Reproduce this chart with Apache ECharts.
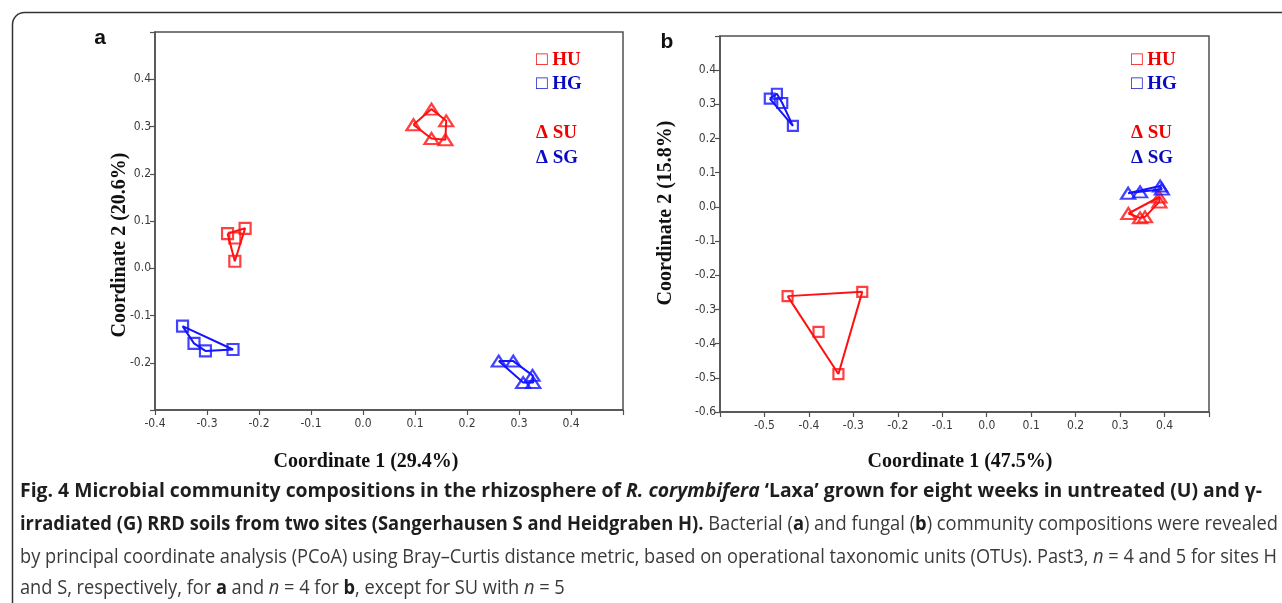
<!DOCTYPE html>
<html>
<head>
<meta charset="utf-8">
<script src="https://cdn.jsdelivr.net/npm/echarts@6/dist/echarts.min.js"></script>
<style>html,body{margin:0;padding:0;background:#fff}#c{width:1282px;height:603px}</style>
</head>
<body>
<div id="c"></div>
<script>
// ---- data ----
// Panel a: bacterial PCoA
const aHU = [[-0.2605,0.0733],[-0.2267,0.0845],[-0.2465,0.064],[-0.2465,0.0148]];
const aHG = [[-0.347,-0.1225],[-0.325,-0.159],[-0.303,-0.175],[-0.250,-0.172]];
const aSU = [[0.097,0.3036],[0.1317,0.3368],[0.160,0.312],[0.1585,0.272],[0.1317,0.2747]];
const aSG = [[0.261,-0.1965],[0.289,-0.1965],[0.326,-0.2267],[0.3275,-0.242],[0.308,-0.242]];
// Panel b: fungal PCoA
const bHU = [[-0.448,-0.261],[-0.28,-0.2485],[-0.3784,-0.3655],[-0.3336,-0.489]];
const bHG = [[-0.488,0.317],[-0.472,0.331],[-0.46,0.304],[-0.436,0.237]];
const bSU = [[0.3186,-0.0193],[0.3449,-0.032],[0.3561,-0.029],[0.3883,0.029],[0.3883,0.0146]];
const bSG = [[0.318,0.040],[0.345,0.044],[0.39,0.061],[0.394,0.052]];

const legendNames = ['HU','HG','SU','SG'];
const axisTitlesA = ['Coordinate 1 (29.4%)','Coordinate 2 (20.6%)'];
const axisTitlesB = ['Coordinate 1 (47.5%)','Coordinate 2 (15.8%)'];

// ---- styles ----
const RED = '#ff1010', BLUE = '#1414ff';
const RED_T = '#f20000', BLUE_T = '#0a0ac4';
const AX = '#505050';
const TICKFONT = '"Liberation Sans Narrow","DejaVu Sans Condensed",Roboto,sans-serif';
const SERIF = '"Liberation Serif","DejaVu Serif",serif';
const CAPFONT = '"Open Sans",Roboto,sans-serif';

function hull(pts){
  const p = pts.slice().sort((a,b)=>a[0]-b[0]||a[1]-b[1]);
  const cr=(o,a,b)=>(a[0]-o[0])*(b[1]-o[1])-(a[1]-o[1])*(b[0]-o[0]);
  const lo=[],up=[];
  for(const q of p){while(lo.length>=2&&cr(lo[lo.length-2],lo[lo.length-1],q)<=0)lo.pop();lo.push(q);}
  for(let i=p.length-1;i>=0;i--){const q=p[i];while(up.length>=2&&cr(up[up.length-2],up[up.length-1],q)<=0)up.pop();up.push(q);}
  up.pop();lo.pop();
  const h=lo.concat(up); h.push(h[0]); return h;
}
function fmt(hide){
  return v=>{const r=Math.round(v*10)/10; if(hide.some(h=>Math.abs(h-r)<1e-9))return ''; return (Math.abs(r)<1e-9?0:r).toFixed(1);};
}
function xAx(gi,min,max,hide){
  return {gridIndex:gi,type:'value',min,max,interval:0.1,
    axisLine:{onZero:false,lineStyle:{color:AX,width:1.5}},
    axisTick:{show:true,length:5,lineStyle:{color:AX,width:1.2}},
    splitLine:{show:false},
    axisLabel:{formatter:fmt(hide),color:'#3a3a3a',fontSize:12,fontFamily:TICKFONT,margin:8}};
}
function yAx(gi,min,max,hide){
  return {gridIndex:gi,type:'value',min,max,interval:0.1,
    axisLine:{onZero:false,lineStyle:{color:AX,width:1.5}},
    axisTick:{show:true,length:5,lineStyle:{color:AX,width:1.2}},
    splitLine:{show:false},
    axisLabel:{formatter:fmt(hide),color:'#3a3a3a',fontSize:12,fontFamily:TICKFONT,margin:4}};
}

const groups = [
  {d:aHU,g:0,c:RED,s:'rect'},{d:aHG,g:0,c:BLUE,s:'rect'},{d:aSU,g:0,c:RED,s:'triangle'},{d:aSG,g:0,c:BLUE,s:'triangle'},
  {d:bHU,g:1,c:RED,s:'rect'},{d:bHG,g:1,c:BLUE,s:'rect'},{d:bSU,g:1,c:RED,s:'triangle'},{d:bSG,g:1,c:BLUE,s:'triangle'}
];
const series=[];
groups.forEach((gr,i)=>{
  series.push({type:'line',xAxisIndex:gr.g,yAxisIndex:gr.g,data:hull(gr.d),showSymbol:false,symbol:'none',
    lineStyle:{color:gr.c,width:2},silent:true,z:2,animation:false});
  series.push({type:'scatter',name:legendNames[i%4],xAxisIndex:gr.g,yAxisIndex:gr.g,data:gr.d,symbol:gr.s,
    symbolSize: gr.s==='rect'?(gr.g===0?[11,11]:[10,10]):[14,11],
    itemStyle:{color:'rgba(0,0,0,0)',borderColor:gr.c,borderWidth:2.2},z:3,animation:false});
});

// ---- legends / titles as text ----
const graphic=[];
graphic.push({type:'rect',shape:{x:12.5,y:12.5,width:1300,height:620,r:12},style:{fill:'none',stroke:'#333',lineWidth:1.5},silent:true});
graphic.push({type:'text',x:100,y:38,style:{text:'a',font:'bold 21px "Liberation Sans",Arial,sans-serif',fill:'#111',align:'center',verticalAlign:'middle'}});
graphic.push({type:'text',x:667,y:42,style:{text:'b',font:'bold 21px "Liberation Sans",Arial,sans-serif',fill:'#111',align:'center',verticalAlign:'middle'}});
const legY=[60,84,133,158], legSym=['\u25A1','\u25A1','\u0394','\u0394'], legCol=[RED_T,BLUE_T,RED_T,BLUE_T];
[536,1131].forEach(lx=>{
  legendNames.forEach((n,i)=>{
    graphic.push({type:'text',x:lx,y:legY[i],style:{text:legSym[i]+' '+n,font:'bold 19px '+SERIF,fill:legCol[i],verticalAlign:'middle'}});
  });
});
function title(t,x,y,rot){
  return {type:'text',x,y,rotation:rot?Math.PI/2:0,style:{text:t,font:'bold 20px '+SERIF,fill:'#111',align:'center',verticalAlign:'middle'}};
}
graphic.push(title(axisTitlesA[0],366,462,false));
graphic.push(title(axisTitlesA[1],120,245,true));
graphic.push(title(axisTitlesB[0],960,462,false));
graphic.push(title(axisTitlesB[1],666,213,true));

// ---- caption ----
const cap1=[['b','Fig. 4 Microbial community compositions in the rhizosphere of '],['bi','R. corymbifera'],['b',' \u2018Laxa\u2019 grown for eight weeks in untreated (U) and \u03b3-']];
const cap2=[['b','irradiated (G) RRD soils from two sites (Sangerhausen S and Heidgraben H).'],['r',' Bacterial ('],['b','a'],['r',') and fungal ('],['b','b'],['r',') community compositions were revealed']];
const cap3=[['r','by principal coordinate analysis (PCoA) using Bray\u2013Curtis distance metric, based on operational taxonomic units (OTUs). Past3, '],['i','n'],['r',' = 4 and 5 for sites H']];
const cap4=[['r','and S, respectively, for '],['b','a'],['r',' and '],['i','n'],['r',' = 4 for '],['b','b'],['r',', except for SU with '],['i','n'],['r',' = 5']];
const CS=20;
const capStyles={b:{fontWeight:'bold',fontStyle:'normal',fill:'#1e1e1e'},bi:{fontWeight:'bold',fontStyle:'italic',fill:'#1e1e1e'},r:{fontWeight:'normal',fontStyle:'normal',fill:'#3a3a3a'},i:{fontWeight:'normal',fontStyle:'italic',fill:'#3a3a3a'}};
const mctx=document.createElement('canvas').getContext('2d');
function measure(segs){
  let w=0; segs.forEach(([k,t])=>{const s=capStyles[k]; mctx.font=`${s.fontStyle} ${s.fontWeight} ${CS}px ${CAPFONT}`; w+=mctx.measureText(t).width;}); return w;
}
const rich={}; Object.keys(capStyles).forEach(k=>{rich[k]=Object.assign({fontSize:CS,fontFamily:CAPFONT},capStyles[k]);});
function capLine(segs,y,sx){
  return {type:'text',x:20,y,scaleX:sx,style:{text:segs.map(([k,t])=>`{${k}|${t}}`).join(''),rich,verticalAlign:'middle'}};
}
const s1=1242/measure(cap1), s2=1258/measure(cap2), s3=1257/measure(cap3);
graphic.push(capLine(cap1,491,s1));
graphic.push(capLine(cap2,524,s2));
graphic.push(capLine(cap3,557,s3));
graphic.push(capLine(cap4,588,s3));

const option={
  animation:false,
  backgroundColor:'#fff',
  grid:[
    {left:155,right:659,top:32,bottom:193,show:true,borderColor:AX,borderWidth:1.5,backgroundColor:'transparent'},
    {left:720,right:73,top:36,bottom:191,show:true,borderColor:AX,borderWidth:1.5,backgroundColor:'transparent'}
  ],
  xAxis:[xAx(0,-0.4,0.5,[0.5]),xAx(1,-0.6,0.5,[-0.6,0.5])],
  yAxis:[yAx(0,-0.3,0.5,[-0.3,0.5]),yAx(1,-0.6,0.5,[0.5])],
  series,
  graphic
};
const chart=echarts.init(document.getElementById('c'),null,{renderer:'canvas'});
chart.setOption(option);
</script>
</body>
</html>
